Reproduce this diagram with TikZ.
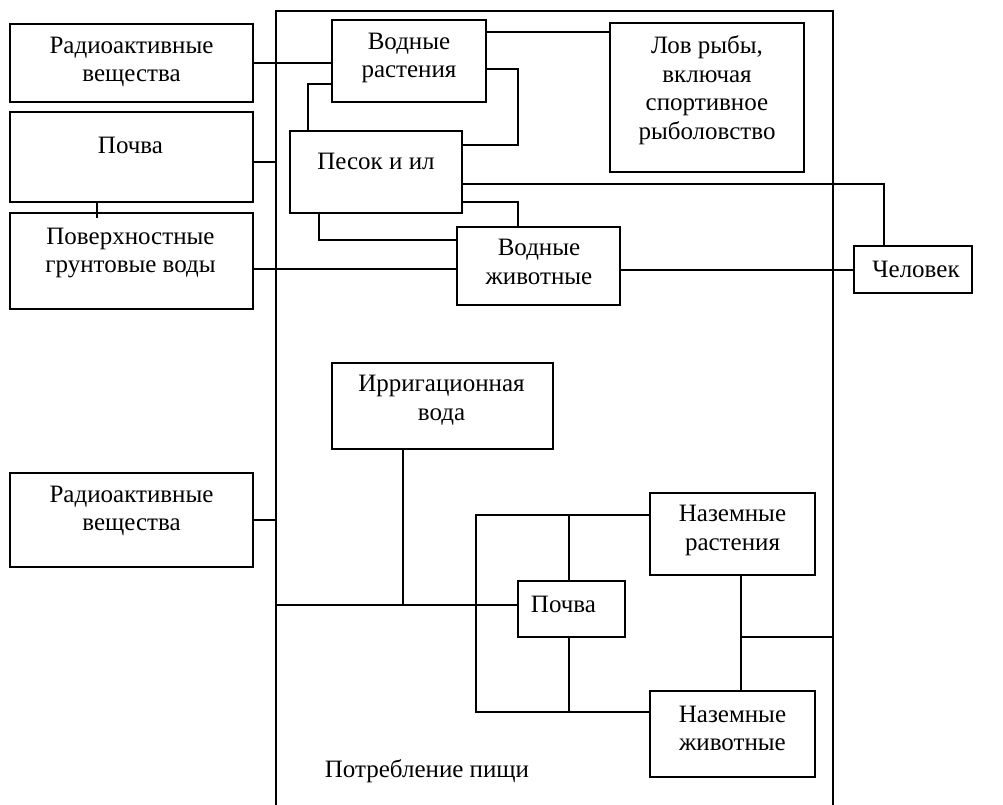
\documentclass[tikz,border=0pt]{standalone}
\usepackage{fontspec}
\setmainfont{Liberation Serif}
\newcommand{\txtsize}{\fontsize{25}{28.5}\selectfont}

\begin{document}
\begin{tikzpicture}[x=1pt,y=-1pt]
    \tikzset{blk/.style={draw, line width=1.3pt, inner sep=0pt},
             txt/.style={font=\txtsize, align=center, inner sep=0pt},
             ln/.style={line width=1.3pt}}
    \useasboundingbox (0,0) rectangle (1003,805);
    % outer frame, open at the bottom
    \coordinate (FRl) at (276,11);
    \coordinate (FRr) at (833,11);
    \draw[ln] (276,820) -- (FRl) -- (FRr) -- (833,820);
    % left column
    \node[blk, minimum width=243, minimum height=78] (RADa) at (131.5,63) {};
    \node[txt] (RADat) at (131.5,62) {Радиоактивные\\вещества};
    \node[blk, minimum width=243, minimum height=90] (POCHa) at (131.5,157) {};
    \node[txt] (POCHat) at (130.5,145) {Почва};
    \node[blk, minimum width=243, minimum height=96] (POVa) at (131.5,261) {};
    \node[txt] (POVat) at (130.5,253) {Поверхностные\\грунтовые воды};
    \node[blk, minimum width=243, minimum height=94] (RADb) at (131.5,520) {};
    \node[txt] (RADbt) at (131.5,511) {Радиоактивные\\вещества};
    % water part
    \node[blk, minimum width=154, minimum height=82] (VRa) at (409,61) {};
    \node[txt] (VRat) at (409,58) {Водные\\растения};
    \node[blk, minimum width=172, minimum height=82] (PSa) at (376,172) {};
    \node[txt] (PSat) at (376,161) {Песок и ил};
    \node[blk, minimum width=194, minimum height=149] (LOVa) at (707,97.5) {};
    \node[txt] (LOVat) at (707,90) {Лов рыбы,\\включая\\спортивное\\рыболовство};
    \node[blk, minimum width=163, minimum height=78] (VZa) at (538.5,266) {};
    \node[txt] (VZat) at (539,262) {Водные\\животные};
    \node[blk, minimum width=118, minimum height=47] (CHa) at (913,269.5) {};
    \node[txt] (CHat) at (916,269.5) {Человек};
    % land part
    \node[blk, minimum width=221, minimum height=86] (IRa) at (442.5,406) {};
    \node[txt] (IRat) at (441.5,400) {Ирригационная\\вода};
    \node[blk, minimum width=107, minimum height=56] (PCb) at (571.5,609) {};
    \node[txt] (PCbt) at (563.5,604.5) {Почва};
    \node[blk, minimum width=165, minimum height=82] (NRa) at (732.5,534) {};
    \node[txt] (NRat) at (732.5,530.5) {Наземные\\растения};
    \node[blk, minimum width=165, minimum height=86] (NZa) at (732.5,734) {};
    \node[txt] (NZat) at (732.5,728.5) {Наземные\\животные};
    \node[txt] (POTt) at (427,771) {Потребление пищи};
    % connectors, left column to frame
    \draw[ln] (RADa.east) -- (RADa.east -| VRa.west);
    \draw[ln] ([yshift=-5pt]POCHa.east) -- ([yshift=-5pt]POCHa.east -| FRl);
    \draw[ln] ([xshift=-34.5pt]POCHa.south) -- ++(0,15);
    \draw[ln] ([yshift=-3pt]VZa.west) -- ([yshift=-3pt]VZa.west -| POVa.east);
    \draw[ln] (RADb.east) -- (RADb.east -| FRl);
    % connectors, water
    \coordinate (Ka) at (518,145);
    \draw[ln] ([yshift=-23pt]VRa.west) -| ([xshift=-68pt]PSa.north);
    \draw[ln] ([yshift=29pt]VRa.east) -- ([yshift=29pt]VRa.east -| LOVa.west);
    \draw[ln] ([yshift=-8pt]VRa.east) -| (Ka) -- (Ka -| PSa.east);
    \draw[ln] ([yshift=-12pt]PSa.east) -| ([xshift=-29pt]CHa.north);
    \draw[ln] ([yshift=-30pt]PSa.east) -| ([xshift=-20.5pt]VZa.north);
    \draw[ln] ([xshift=-57pt]PSa.south) |- ([yshift=26pt]VZa.west);
    \draw[ln] ([yshift=-0.5pt]CHa.west) -- ([yshift=-0.5pt]CHa.west -| VZa.east);
    % connectors, land
    \coordinate (Kb) at ([yshift=4pt]PCb.west);
    \coordinate (Kc) at (476,515);
    \coordinate (Kd) at (476,712);
    \coordinate (Ke) at (741,637);
    \draw[ln] (Kb) -- (Kb -| FRl);
    \draw[ln] ([xshift=-39.5pt]IRa.south) -- ([xshift=-39.5pt]IRa.south |- Kb);
    \draw[ln] ([yshift=19pt]NRa.west) -- (Kc) -- (Kd) -- ([yshift=22pt]NZa.west);
    \draw[ln] ([xshift=-2.5pt]PCb.north) -- ([xshift=-2.5pt]PCb.north |- Kc);
    \draw[ln] ([xshift=-2.5pt]PCb.south) -- ([xshift=-2.5pt]PCb.south |- Kd);
    \draw[ln] ([xshift=8.5pt]NRa.south) -- ([xshift=8.5pt]NRa.south |- NZa.north);
    \draw[ln] (Ke) -- (Ke -| FRr);
\end{tikzpicture}
\end{document}
